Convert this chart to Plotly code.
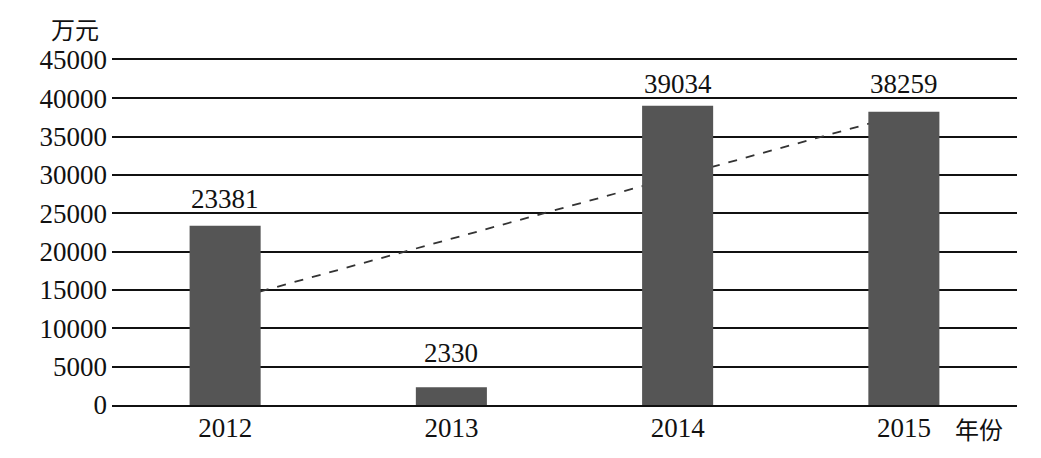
import math
import numpy as np
import plotly.graph_objects as go

years = ["2012", "2013", "2014", "2015"]
values = [23381, 2330, 39034, 38259]
y_ticks = [0, 5000, 10000, 15000, 20000, 25000, 30000, 35000, 40000, 45000]
y_unit = "万元"
x_unit = "年份"
grid_step = 5000

# linear trendline (least squares over category index)
idx = np.arange(1, len(values) + 1)
slope, intercept = np.polyfit(idx, values, 1)
trend = [slope * i + intercept for i in idx]

serif = "Liberation Serif, Times New Roman, serif"
cjk = "Noto Sans CJK SC"
ink = "#111111"
fs = 27

fig = go.Figure()
# trendline below the bars (main axes)
fig.add_trace(go.Scatter(
    x=years, y=trend, mode="lines",
    line=dict(color="#333333", width=1.8, dash="dash"),
    xaxis="x", yaxis="y", showlegend=False, hoverinfo="skip",
))
# bars on overlaying axes so they are drawn above the trendline
fig.add_trace(go.Bar(
    x=years, y=values, marker=dict(color="#555555", line=dict(width=0)),
    xaxis="x2", yaxis="y2", showlegend=False,
))

# value labels sit on the first gridline above each bar (as in the source)
annotations = [
    dict(text=str(v), x=i, y=math.ceil(v / grid_step) * grid_step,
         xref="x", yref="y", xanchor="center",
         yanchor="bottom", yshift=-3, showarrow=False,
         font=dict(family=serif, size=fs, color=ink))
    for i, v in enumerate(values)
]
annotations += [
    dict(text=y_unit, xref="paper", yref="paper", x=-0.012, y=1.0,
         xanchor="right", yanchor="bottom", yshift=12, showarrow=False,
         font=dict(family=cjk, size=24, color=ink)),
    dict(text=x_unit, xref="paper", yref="paper", x=1.0, y=0,
         xanchor="right", yanchor="top", yshift=-4, xshift=-12, showarrow=False,
         font=dict(family=cjk, size=24, color=ink)),
]

fig.update_layout(
    width=1033, height=450,
    margin=dict(l=104, r=24, t=52, b=53),
    plot_bgcolor="white", paper_bgcolor="white",
    bargap=0.686,
    font=dict(family=serif, size=fs, color=ink),
    xaxis=dict(
        type="category", categoryorder="array", categoryarray=years,
        showgrid=False, showline=True, mirror=True, linecolor=ink, linewidth=1.8,
        ticks="", tickfont=dict(family=serif, size=fs, color=ink),
        range=[-0.5, 3.5], ticklabelstandoff=-2,
    ),
    yaxis=dict(
        range=[0, 45000], tickvals=y_ticks, ticktext=[str(t) for t in y_ticks],
        showgrid=True, gridcolor=ink, gridwidth=1.6,
        zeroline=False, showline=False, ticks="",
        tickfont=dict(family=serif, size=fs, color=ink),
        ticklabelstandoff=4,
    ),
    xaxis2=dict(
        type="category", categoryorder="array", categoryarray=years,
        overlaying="x", visible=False, range=[-0.5, 3.5],
    ),
    yaxis2=dict(overlaying="y", visible=False, range=[0, 45000]),
    annotations=annotations,
)

fig.write_html("out.html")
